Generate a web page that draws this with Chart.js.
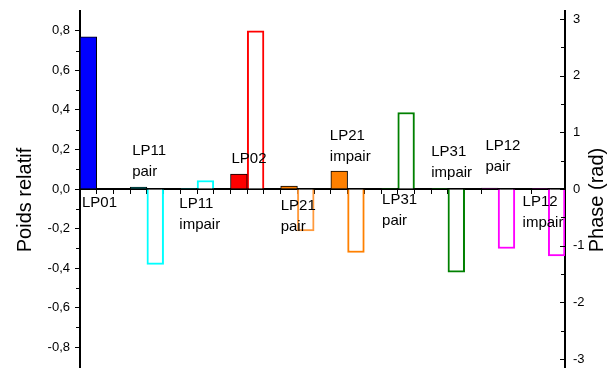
<!DOCTYPE html>
<html>
<head>
<meta charset="utf-8">
<script src="https://cdn.jsdelivr.net/npm/chart.js@4.4.1/dist/chart.umd.min.js"></script>
<style>
  html, body { margin: 0; padding: 0; background: #fff; }
  #wrap { width: 610px; height: 369px; }
</style>
</head>
<body>
<div id="wrap"><canvas id="modes"></canvas></div>
<script>
// modes de la fibre : poids relatif (axe gauche) et phase (axe droit)
const modes = ['LP01', 'LP11 pair', 'LP11 impair', 'LP02', 'LP21 pair', 'LP21 impair', 'LP31 pair', 'LP31 impair', 'LP12 pair', 'LP12 impair'];
const weights = [0.77, 0.01, 0.002, 0.076, 0.015, 0.09, 0.003, 0.002, 0.005, 0.002];
const phases = [0, -1.33, 0.15, 2.79, -0.74, -1.12, 1.35, -1.47, -1.05, -1.18];
const weightTicks = [-0.8, -0.6, -0.4, -0.2, 0, 0.2, 0.4, 0.6, 0.8];
const phaseTicks = [-3, -2, -1, 0, 1, 2, 3];

const fillColors = ['#0000ff', '#008080', '#008080', '#ff0000', '#ff8000', '#ff8000', '#006400', '#008000', '#800080', '#800080'];
const lineColors = ['#0000ff', '#00ffff', '#00ffff', '#ff0000', '#ff9a3c', '#ff8000', '#008000', '#008000', '#ff00ff', '#ff00ff'];

// placement des étiquettes (px par rapport au bord gauche du mode et à la ligne zéro)
const labelDx = [2, 2, -1, 1, 0, -1, 1, 0, 4, -9];
const labelDy = [18, -34, 19, -26, 21, -49, 15, -33, -39, 17];

const FONT = 'Arial, "Liberation Sans", sans-serif';

// 3 cases par mode : poids, phase, vide (le dernier vide est coupé)
const slots = [];
const weightData = [];
const phaseData = [];
const slotFill = [];
const slotLine = [];
modes.forEach((m, i) => {
  const kinds = i < modes.length - 1 ? ['w', 'p', ''] : ['w', 'p'];
  kinds.forEach(k => {
    slots.push(m + (k ? ' ' + k : ''));
    weightData.push(k === 'w' ? weights[i] : null);
    phaseData.push(k === 'p' ? phases[i] : null);
    slotFill.push(fillColors[i]);
    slotLine.push(lineColors[i]);
  });
});

const comma = v => v.toFixed(1).replace('.', ',');

const decor = {
  id: 'decor',
  afterDraw(chart) {
    const { ctx, scales: { x, y, y1 } } = chart;
    ctx.save();
    ctx.strokeStyle = '#000';
    ctx.lineWidth = 1;
    ctx.beginPath();
    // petites graduations gauche
    [-0.7, -0.5, -0.3, -0.1, 0.1, 0.3, 0.5, 0.7].forEach(v => {
      const py = Math.round(y.getPixelForValue(v)) + 0.5;
      ctx.moveTo(y.right - 4, py);
      ctx.lineTo(y.right, py);
    });
    // graduations droite, vers l'intérieur
    phaseTicks.forEach(v => {
      const py = Math.round(y1.getPixelForValue(v)) + 0.5;
      ctx.moveTo(y1.left - 5, py);
      ctx.lineTo(y1.left, py);
    });
    [-2.5, -1.5, -0.5, 0.5, 1.5, 2.5].forEach(v => {
      const py = Math.round(y1.getPixelForValue(v)) + 0.5;
      ctx.moveTo(y1.left - 4, py);
      ctx.lineTo(y1.left, py);
    });
    ctx.stroke();

    // étiquettes des modes
    const y0 = y.getPixelForValue(0);
    const half = (x.getPixelForValue(1) - x.getPixelForValue(0)) / 2;
    ctx.fillStyle = '#000';
    ctx.font = '15px ' + FONT;
    ctx.textAlign = 'left';
    ctx.textBaseline = 'alphabetic';
    modes.forEach((m, i) => {
      const left = x.getPixelForValue(i * 3) - half + labelDx[i];
      m.split(' ').forEach((line, j) => {
        ctx.fillText(line, left, y0 + labelDy[i] + j * 21);
      });
    });

    // titres des axes
    ctx.font = '20px ' + FONT;
    ctx.textAlign = 'center';
    [['Poids relatif', 31], ['Phase (rad)', 603]].forEach(([t, px]) => {
      ctx.save();
      ctx.translate(px, 200);
      ctx.rotate(-Math.PI / 2);
      ctx.fillText(t, 0, 0);
      ctx.restore();
    });
    ctx.restore();
  }
};

new Chart(document.getElementById('modes'), {
  type: 'bar',
  data: {
    labels: slots,
    datasets: [
      {
        label: 'Poids relatif',
        data: weightData,
        yAxisID: 'y',
        backgroundColor: slotFill,
        borderColor: '#000',
        borderWidth: 1,
        grouped: false,
        categoryPercentage: 1,
        barPercentage: 1
      },
      {
        label: 'Phase',
        data: phaseData,
        yAxisID: 'y1',
        backgroundColor: '#fff',
        borderColor: slotLine,
        borderWidth: 2,
        grouped: false,
        categoryPercentage: 1,
        barPercentage: 1
      }
    ]
  },
  options: {
    responsive: true,
    maintainAspectRatio: false,
    animation: false,
    layout: { padding: { top: 11, bottom: 2, left: 0, right: 0 } },
    plugins: {
      legend: { display: false },
      tooltip: { enabled: false }
    },
    scales: {
      x: {
        type: 'category',
        position: { y: 0 },
        afterFit: axis => { axis.height = 0; },
        grid: { drawOnChartArea: false, tickLength: 4, color: '#000', offset: true },
        border: { color: '#000', width: 2 },
        ticks: { display: false }
      },
      y: {
        position: 'left',
        min: -0.9,
        max: 0.9,
        afterBuildTicks: axis => { axis.ticks = weightTicks.map(v => ({ value: v })); },
        afterFit: axis => { axis.width = 80; axis.paddingTop = 0; axis.paddingBottom = 0; },
        grid: { drawOnChartArea: false, tickLength: 5, color: '#000' },
        border: { color: '#000', width: 2 },
        ticks: {
          color: '#000',
          padding: 5,
          font: { family: FONT, size: 13 },
          callback: v => comma(v)
        }
      },
      y1: {
        position: 'right',
        min: -Math.PI,
        max: Math.PI,
        afterBuildTicks: axis => { axis.ticks = phaseTicks.map(v => ({ value: v })); },
        afterFit: axis => { axis.width = 45; axis.paddingTop = 0; axis.paddingBottom = 0; },
        grid: { drawOnChartArea: false, drawTicks: false },
        border: { color: '#000', width: 2 },
        ticks: {
          color: '#000',
          padding: 8,
          font: { family: FONT, size: 13 },
          callback: v => String(v)
        }
      }
    }
  },
  plugins: [decor]
});
</script>
</body>
</html>
